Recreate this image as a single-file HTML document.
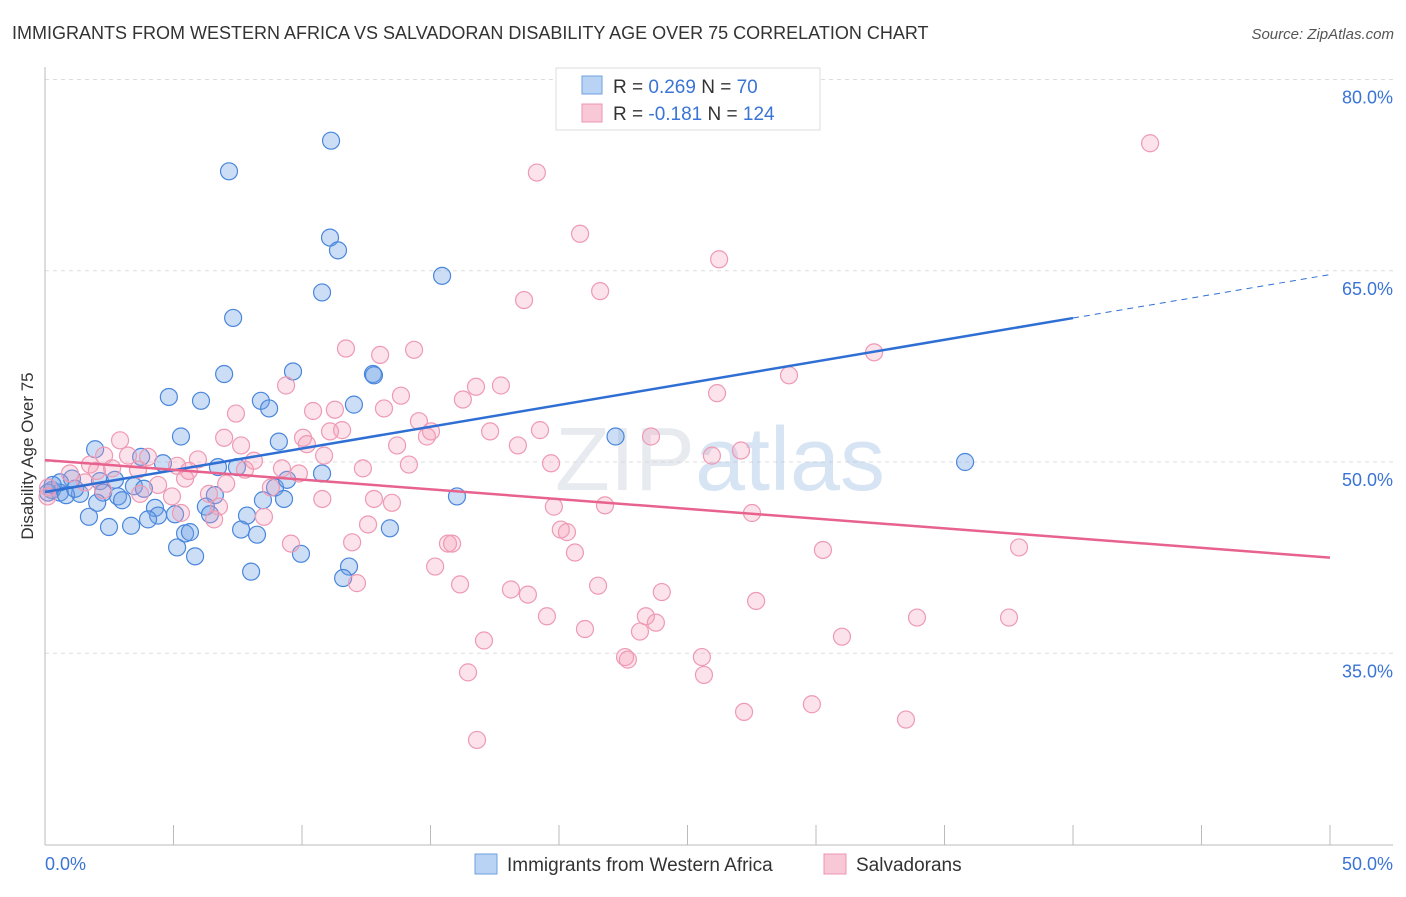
<!DOCTYPE html>
<html><head><meta charset="utf-8"><style>
body{margin:0;background:#fff;font-family:"Liberation Sans",sans-serif;}
svg text{font-family:"Liberation Sans",sans-serif;}
</style></head><body>
<svg id="chart" width="1406" height="892" xmlns="http://www.w3.org/2000/svg">
<text x="12" y="39" font-size="18" fill="#333">IMMIGRANTS FROM WESTERN AFRICA VS SALVADORAN DISABILITY AGE OVER 75 CORRELATION CHART</text>
<text x="1394" y="39" font-size="15" fill="#555" font-style="italic" text-anchor="end">Source: ZipAtlas.com</text>
<text x="0" y="0" font-size="17" fill="#333" text-anchor="middle" transform="translate(33,456) rotate(-90)">Disability Age Over 75</text>
<g id="grid"></g>
<g id="axes"></g>
<text x="720" y="490" font-size="90" fill="#ccd3dd" opacity="0.45" text-anchor="middle" font-family="Liberation Serif">ZIP<tspan fill="#a8c4e8" font-family="Liberation Sans">atlas</tspan></text>
<g id="pts"></g>
<g id="lines"></g>
<g>
<rect x="556" y="68" width="264" height="62" fill="#fff" stroke="#ddd"/>
<rect x="582" y="76" width="20" height="18" fill="#b9d3f5" stroke="#6fa0e0"/>
<rect x="582" y="104" width="20" height="18" fill="#f9c8d7" stroke="#ec95b0"/>
<text x="613" y="93" font-size="19" fill="#333">R = <tspan fill="#3a74d6">0.269</tspan>   N = <tspan fill="#3a74d6">70</tspan></text>
<text x="613" y="120" font-size="19" fill="#333">R = <tspan fill="#3a74d6">-0.181</tspan>   N = <tspan fill="#3a74d6">124</tspan></text>
</g>
<g>
<rect x="475" y="854" width="22" height="20" fill="#b9d3f5" stroke="#6fa0e0"/>
<text x="507" y="871" font-size="19" fill="#333">Immigrants from Western Africa</text>
<rect x="824" y="854" width="22" height="20" fill="#f9c8d7" stroke="#ec95b0"/>
<text x="856" y="871" font-size="19" fill="#333">Salvadorans</text>
</g>
</svg>
<script>
const yTicks=[80,65,50,35];
const xTickLabels=["0.0%","50.0%"];
const blueX=[11.13,7.16,11.09,11.4,15.45,10.78,7.32,9.65,6.97,12.76,12.8,4.82,6.07,8.4,8.72,12.02,5.29,9.1,22.2,1.95,35.8,3.74,4.59,6.73,7.47,10.78,1.05,2.14,2.72,3.46,3.85,8.95,9.42,0.58,0.27,1.36,2.26,2.84,3.0,6.61,8.48,9.3,16.03,2.03,4.28,6.26,4.4,5.06,6.42,1.71,4.01,7.86,2.49,3.35,7.63,13.42,8.25,5.45,5.64,5.14,5.84,9.96,8.02,11.83,11.6,0.58,0.12,0.82,1.17,0.3];
const blueY=[75.2,72.8,67.6,66.6,64.6,63.3,61.3,57.1,56.9,56.9,56.8,55.1,54.8,54.8,54.2,54.5,52.0,51.6,52.0,51.0,50.0,50.4,49.9,49.6,49.6,49.1,48.7,48.5,48.6,48.1,47.9,48.0,48.6,47.6,47.8,47.5,47.6,47.3,47.0,47.4,47.0,47.1,47.3,46.8,46.4,46.5,45.8,45.9,45.9,45.7,45.5,45.8,44.9,45.0,44.7,44.8,44.3,44.4,44.5,43.3,42.6,42.8,41.4,41.8,40.9,48.4,47.6,47.4,47.9,48.2];
const pinkX=[43.0,19.14,20.82,26.23,21.6,18.64,11.71,14.36,13.04,32.26,28.95,9.38,16.77,17.74,26.15,13.85,16.26,7.43,10.43,11.28,13.19,14.55,11.09,11.56,15.02,14.86,17.32,19.26,23.58,2.92,6.97,7.63,10.04,10.19,13.7,18.4,27.08,2.3,4.01,3.23,25.95,5.95,8.13,10.86,14.16,19.69,1.75,5.14,2.61,3.62,5.6,7.78,9.22,12.37,0.97,9.88,5.45,1.56,4.4,7.05,8.79,0.12,2.26,3.7,4.94,6.38,10.79,12.8,13.5,6.77,19.8,21.79,5.29,8.52,6.58,27.51,12.57,20.07,20.31,11.95,15.68,15.84,9.57,37.9,30.27,20.62,15.18,12.14,16.15,21.52,18.13,18.79,24.0,27.67,19.53,23.38,33.93,37.51,23.77,23.15,21.01,31.01,17.08,22.57,22.68,25.56,16.46,25.64,27.2,29.84,33.5,16.81,0.1,2.02];
const pinkY=[75.0,72.7,67.9,65.9,63.4,62.7,58.9,58.8,58.4,58.6,56.8,56.0,55.9,56.0,55.4,55.2,54.9,53.8,54.0,54.1,54.2,53.2,52.4,52.5,52.4,52.0,52.4,52.5,52.0,51.7,51.9,51.3,51.9,51.4,51.3,51.3,50.9,50.5,50.4,50.5,50.5,50.2,50.1,50.5,49.8,49.9,49.8,49.7,49.5,49.4,49.3,49.4,49.5,49.5,49.1,49.1,48.7,48.4,48.2,48.3,48.0,48.0,47.8,47.5,47.3,47.5,47.1,47.1,46.8,46.5,46.5,46.6,46.0,45.7,45.5,46.0,45.1,44.7,44.5,43.7,43.6,43.6,43.6,43.3,43.1,42.9,41.8,40.5,40.4,40.3,40.0,39.6,39.8,39.1,37.9,37.9,37.8,37.8,37.4,36.7,36.9,36.3,36.0,34.7,34.5,34.7,33.5,33.3,30.4,31.0,29.8,28.2,47.3,49.3];
const blueTrend=[47.65,64.7];
const pinkTrend=[50.15,42.5];
const NS="http://www.w3.org/2000/svg";
const xs=v=>45+v*25.7;
const ys=v=>462-(v-50)*12.75;
function mk(tag,attrs,parent){const e=document.createElementNS(NS,tag);for(const k in attrs)e.setAttribute(k,attrs[k]);parent.appendChild(e);return e;}
const grid=document.getElementById('grid'),axes=document.getElementById('axes');
yTicks.forEach(t=>{
 const l=mk('line',{x1:45,x2:1393,y1:ys(t),y2:ys(t),stroke:'#ddd','stroke-dasharray':'4,4'},grid);
 
 
 const tx=mk('text',{x:1393,y:ys(t)+24,'font-size':18,fill:'#3a74d6','text-anchor':'end'},grid);
 tx.textContent=t.toFixed(1)+'%';
 
 
});
const ax=mk('line',{x1:45,x2:45,y1:67,y2:845,stroke:'#bbb'},axes);


const bx=mk('line',{x1:45,x2:1393,y1:845,y2:845,stroke:'#bbb'},axes);


for(let i=0;i<=10;i++){const t=mk('line',{x1:xs(i*5),x2:xs(i*5),y1:825,y2:845,stroke:'#bbb'},axes);
 
 }
[[0,'start'],[50,'end']].forEach((p,i)=>{const t=mk('text',{x:i?1393:45,y:870,'font-size':18,fill:'#3a74d6','text-anchor':p[1]},axes);t.textContent=xTickLabels[i];
 
 });
const pts=document.getElementById('pts');
blueX.forEach((x,i)=>{const c=mk('circle',{cx:xs(x),cy:ys(blueY[i]),r:8.5,fill:'rgba(110,160,230,0.35)',stroke:'#4a86dc','stroke-width':1.2},pts);
 
 });
pinkX.forEach((x,i)=>{const c=mk('circle',{cx:xs(x),cy:ys(pinkY[i]),r:8.5,fill:'rgba(245,160,185,0.3)',stroke:'#ee9ab4','stroke-width':1.2},pts);
 
 });
const lines=document.getElementById('lines');
const bAt=x=>blueTrend[0]+(blueTrend[1]-blueTrend[0])*x/50;
const l1=mk('line',{x1:xs(0),y1:ys(bAt(0)),x2:xs(40),y2:ys(bAt(40)),stroke:'#2f6fd4','stroke-width':2.5},lines);


const l2=mk('line',{x1:xs(40),y1:ys(bAt(40)),x2:xs(50),y2:ys(bAt(50)),stroke:'#2f6fd4','stroke-width':1,'stroke-dasharray':'6,5'},lines);


const l3=mk('line',{x1:xs(0),y1:ys(pinkTrend[0]),x2:xs(50),y2:ys(pinkTrend[1]),stroke:'#e8628e','stroke-width':2.5},lines);


</script>
</body></html>
